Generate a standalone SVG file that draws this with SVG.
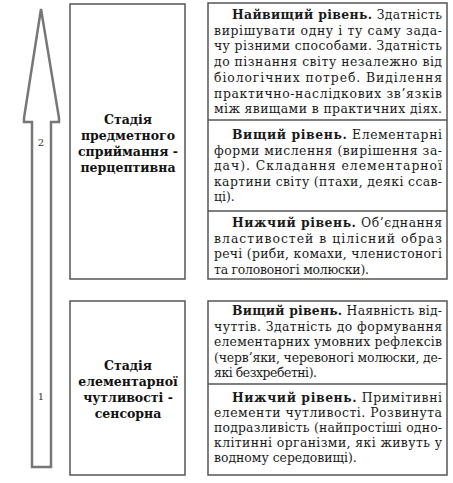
<svg xmlns="http://www.w3.org/2000/svg" width="453" height="483" viewBox="0 0 453 483">
<style>
.box{fill:#fff;stroke:#555;stroke-width:1.5}
.div{stroke:#555;stroke-width:1.5}
.t{font-family:"DejaVu Serif","Liberation Serif",serif;font-size:12.4px;fill:#1a1a1a}
.b{font-weight:bold}
.st{font-family:"DejaVu Serif","Liberation Serif",serif;font-size:12.5px;font-weight:bold;fill:#111;text-anchor:middle}
.num{font-family:"DejaVu Serif","Liberation Serif",serif;font-size:10px;fill:#333;text-anchor:middle}
</style>
<rect width="453" height="483" fill="#fff"/>
<g id="connectors">
<polygon points="41,9 59,118 59,122 51,122 51,467 32,467 32,122 24,122 24,118" fill="#fff" stroke="#777" stroke-width="2.5" stroke-linejoin="miter"/>
<text class="num" x="41" y="146">2</text>
<text class="num" x="41" y="400">1</text>
</g>
<g id="stage2">
<rect class="box" x="70" y="4" width="115" height="275"/>
<text class="st" x="128" y="124">Стадія</text>
<text class="st" x="128" y="140">предметного</text>
<text class="st" x="128" y="156">сприймання -</text>
<text class="st" x="128" y="172">перцептивна</text>
</g>
<g id="stage1">
<rect class="box" x="70" y="301" width="115" height="174"/>
<text class="st" x="128" y="370">Стадія</text>
<text class="st" x="128" y="386">елементарної</text>
<text class="st" x="128" y="402">чутливості -</text>
<text class="st" x="128" y="418">сенсорна</text>
</g>
<g id="levels2">
<rect class="box" x="208" y="3" width="239" height="276"/>
<line class="div" x1="208" y1="120" x2="447" y2="120"/>
<line class="div" x1="208" y1="211" x2="447" y2="211"/>
<text class="t" x="232" y="19" textLength="210" lengthAdjust="spacing"><tspan class="b">Найвищий рівень.</tspan> Здатність</text>
<text class="t" x="214" y="34.7" textLength="228" lengthAdjust="spacing">вирішувати одну і ту саму зада-</text>
<text class="t" x="214" y="50.4" textLength="228" lengthAdjust="spacing">чу різними способами. Здатність</text>
<text class="t" x="214" y="66.1" textLength="228" lengthAdjust="spacing">до пізнання світу незалежно від</text>
<text class="t" x="214" y="81.8" textLength="228" lengthAdjust="spacing">біологічних потреб. Виділення</text>
<text class="t" x="214" y="97.5" textLength="228" lengthAdjust="spacing">практично-наслідкових зв’язків</text>
<text class="t" x="214" y="113.2" textLength="228" lengthAdjust="spacing">між явищами в практичних діях.</text>
<text class="t" x="232" y="139" textLength="210" lengthAdjust="spacing"><tspan class="b">Вищий рівень.</tspan> Елементарні</text>
<text class="t" x="214" y="154.5" textLength="228" lengthAdjust="spacing">форми мислення (вирішення за-</text>
<text class="t" x="214" y="170" textLength="228" lengthAdjust="spacing">дач). Складання елементарної</text>
<text class="t" x="214" y="185.5" textLength="228" lengthAdjust="spacing">картини світу (птахи, деякі ссав-</text>
<text class="t" x="214" y="201">ці).</text>
<text class="t" x="232" y="227" textLength="210" lengthAdjust="spacing"><tspan class="b">Нижчий рівень.</tspan> Об’єднання</text>
<text class="t" x="214" y="242.5" textLength="228" lengthAdjust="spacing">властивостей в  цілісний образ</text>
<text class="t" x="214" y="258" textLength="228" lengthAdjust="spacing">речі (риби, комахи, членистоногі</text>
<text class="t" x="214" y="273.5" textLength="155" lengthAdjust="spacing">та головоногі молюски).</text>
</g>
<g id="levels1">
<rect class="box" x="208" y="301" width="239" height="174"/>
<line class="div" x1="208" y1="384" x2="447" y2="384"/>
<text class="t" x="232" y="315" textLength="210" lengthAdjust="spacing"><tspan class="b">Вищий рівень.</tspan> Наявність від-</text>
<text class="t" x="214" y="330.5" textLength="228" lengthAdjust="spacing">чуттів. Здатність до формування</text>
<text class="t" x="214" y="346" textLength="228" lengthAdjust="spacing">елементарних умовних рефлексів</text>
<text class="t" x="214" y="361.5" textLength="228" lengthAdjust="spacing">(черв’яки, черевоногі молюски, де-</text>
<text class="t" x="214" y="377" textLength="103" lengthAdjust="spacing">які безхребетні).</text>
<text class="t" x="232" y="402" textLength="210" lengthAdjust="spacing"><tspan class="b">Нижчий рівень.</tspan> Примітивні</text>
<text class="t" x="214" y="417" textLength="228" lengthAdjust="spacing">елементи чутливості. Розвинута</text>
<text class="t" x="214" y="432" textLength="228" lengthAdjust="spacing">подразливість (найпростіші одно-</text>
<text class="t" x="214" y="447" textLength="228" lengthAdjust="spacing">клітинні організми, які живуть у</text>
<text class="t" x="214" y="462">водному середовищі).</text>
</g>
</svg>
